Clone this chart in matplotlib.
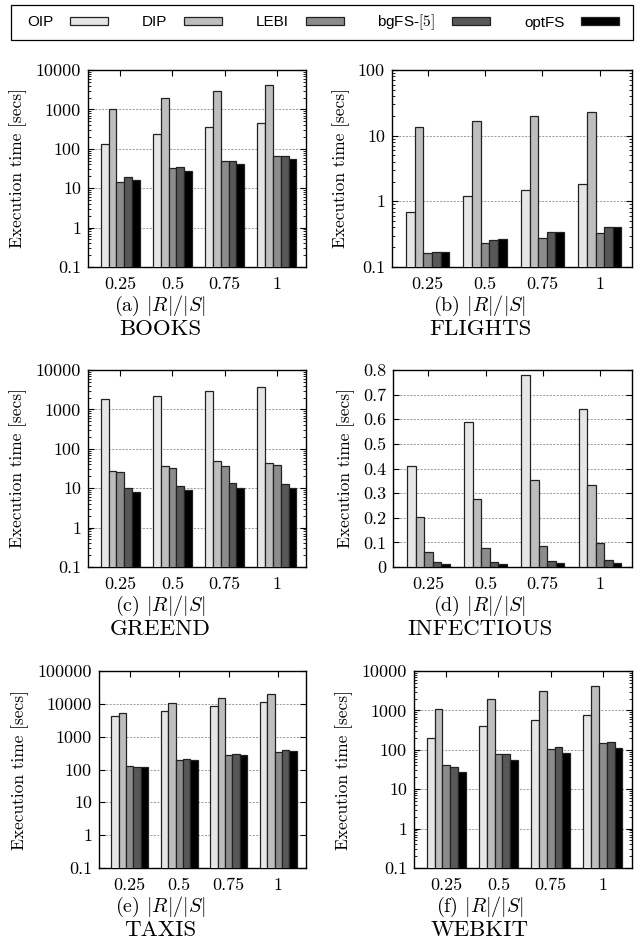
import numpy as np
import matplotlib
matplotlib.use("Agg")
import matplotlib.pyplot as plt
from matplotlib.patches import Rectangle
from matplotlib.ticker import LogLocator, NullFormatter

plt.rcParams['font.family'] = ['cmr10', 'DejaVu Serif']
plt.rcParams['mathtext.fontset'] = 'cm'
plt.rcParams['axes.formatter.use_mathtext'] = True

ratios = ['0.25', '0.5', '0.75', '1']
methods = ['OIP', 'DIP', 'LEBI', 'bgFS-$[5]$', 'optFS']
colors = ['#e6e6e6', '#bebebe', '#8c8c8c', '#585858', '#000000']

books_oip = [130, 240, 350, 460]
books_dip = [1000, 1950, 2900, 4200]
books_lebi = [14, 32, 50, 67]
books_bgfs = [19, 34, 50, 64]
books_optfs = [16, 28, 40, 54]

flights_oip = [0.68, 1.2, 1.5, 1.85]
flights_dip = [13.5, 17, 20, 23]
flights_lebi = [0.165, 0.23, 0.28, 0.33]
flights_bgfs = [0.168, 0.26, 0.34, 0.40]
flights_optfs = [0.17, 0.265, 0.34, 0.41]

greend_oip = [1800, 2150, 2950, 3700]
greend_dip = [28, 37, 49, 44]
greend_lebi = [26, 32, 36, 38]
greend_bgfs = [10, 11.5, 13.5, 13]
greend_optfs = [8, 9, 10, 10]

infect_oip = [0.41, 0.59, 0.78, 0.64]
infect_dip = [0.205, 0.278, 0.353, 0.332]
infect_lebi = [0.062, 0.078, 0.087, 0.097]
infect_bgfs = [0.020, 0.022, 0.025, 0.027]
infect_optfs = [0.012, 0.014, 0.017, 0.018]

taxis_oip = [4200, 6200, 8800, 11500]
taxis_dip = [5300, 10500, 15500, 20500]
taxis_lebi = [125, 190, 280, 340]
taxis_bgfs = [122, 210, 300, 400]
taxis_optfs = [118, 200, 285, 360]

webkit_oip = [195, 400, 580, 780]
webkit_dip = [1100, 2000, 3100, 4200]
webkit_lebi = [42, 80, 105, 150]
webkit_bgfs = [36, 77, 120, 160]
webkit_optfs = [27, 54, 82, 110]

panels = [
    ('a', 'BOOKS', [books_oip, books_dip, books_lebi, books_bgfs, books_optfs], 'log', 10000),
    ('b', 'FLIGHTS', [flights_oip, flights_dip, flights_lebi, flights_bgfs, flights_optfs], 'log', 100),
    ('c', 'GREEND', [greend_oip, greend_dip, greend_lebi, greend_bgfs, greend_optfs], 'log', 10000),
    ('d', 'INFECTIOUS', [infect_oip, infect_dip, infect_lebi, infect_bgfs, infect_optfs], 'linear', 0.8),
    ('e', 'TAXIS', [taxis_oip, taxis_dip, taxis_lebi, taxis_bgfs, taxis_optfs], 'log', 100000),
    ('f', 'WEBKIT', [webkit_oip, webkit_dip, webkit_lebi, webkit_bgfs, webkit_optfs], 'log', 10000),
]

W, H = 642, 950
# axes boxes in pixels: left, right, top, bottom ; caption centre x
boxes = [
    (88, 306, 70, 267, 160), (392, 632, 70, 267, 480),
    (88, 306, 370, 567, 160), (393, 632, 370, 567, 480),
    (99, 306, 671, 868, 160), (414, 632, 671, 868, 480),
]

fig = plt.figure(figsize=(W / 100, H / 100), dpi=100)

x = np.arange(len(ratios))
bw = 0.15
handles = []
for (tag, name, series, scale, ymax), (l, r, t, b, cx) in zip(panels, boxes):
    ax = fig.add_axes([l / W, 1 - b / H, (r - l) / W, (b - t) / H])
    for i, vals in enumerate(series):
        bars = ax.bar(x + (i - 2) * bw, vals, bw, color=colors[i],
                      edgecolor='#222222', linewidth=0.9, zorder=3,
                      label=methods[i])
        if tag == 'a':
            handles.append(bars)
    ax.set_yscale(scale)
    if scale == 'log':
        ax.set_ylim(0.1, ymax)
        ticks = [10.0 ** k for k in range(-1, int(round(np.log10(ymax))) + 1)]
        ax.set_yticks(ticks)
        ax.set_yticklabels(['0.1'] + [str(int(v)) for v in ticks[1:]])
        ax.yaxis.set_minor_locator(LogLocator(base=10, subs=np.arange(2, 10)))
        ax.yaxis.set_minor_formatter(NullFormatter())
    else:
        ax.set_ylim(0, ymax)
        ticks = np.arange(0, 0.81, 0.1)
        ax.set_yticks(ticks)
        ax.set_yticklabels(['0'] + ['%.1f' % v for v in ticks[1:]])
    ax.set_xlim(-0.62, 3.56)
    ax.set_xticks(x)
    ax.set_xticklabels(ratios)
    ax.tick_params(which='both', direction='in', top=True, right=True,
                   labelsize=13, pad=5)
    ax.tick_params(axis='x', pad=7)
    ax.tick_params(which='major', length=4)
    ax.tick_params(which='minor', length=2)
    ax.grid(axis='y', which='major', linestyle=(0, (2, 1.5)),
            color='#999999', linewidth=0.7, zorder=0)
    for s in ax.spines.values():
        s.set_linewidth(1.0)
    ax.set_ylabel('Execution time [secs]', fontsize=12.5, labelpad=6)
    fig.text(cx / W, 1 - (b + 39) / H, '(%s) $|R|/|S|$' % tag,
             ha='center', va='center', fontsize=14.5)
    fig.text(cx / W, 1 - (b + 62) / H, name,
             ha='center', va='center', fontsize=16.5)

# legend frame across the top
fig.patches.append(Rectangle((11 / W, 1 - 40 / H), 622 / W, 35 / H,
                             transform=fig.transFigure, fill=False,
                             edgecolor='black', linewidth=0.9))
fig.legend(handles=handles, labels=methods, loc='center left', ncol=5,
           bbox_to_anchor=(27 / W, 1 - 22.5 / H), frameon=False,
           markerfirst=False, handlelength=2.5, handleheight=0.5,
           handletextpad=1.1, columnspacing=2.2, borderpad=0,
           borderaxespad=0,
           prop={'family': ['Liberation Sans', 'DejaVu Sans'], 'size': 11})

fig.savefig('out.png', dpi=100)
